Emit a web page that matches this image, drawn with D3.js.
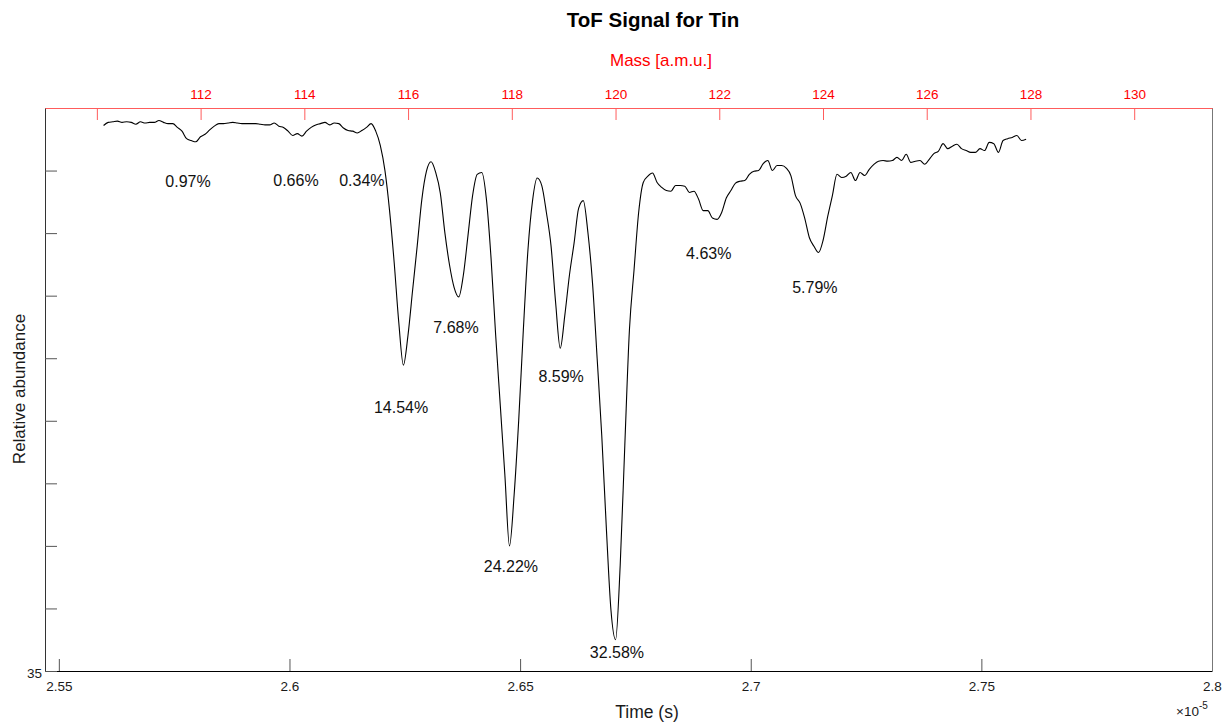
<!DOCTYPE html>
<html>
<head>
<meta charset="utf-8">
<script src="https://cdn.jsdelivr.net/npm/d3@7"></script>
<style>
  body { margin: 0; background: #fff; }
  svg { display: block; }
  text { font-family: "Liberation Sans", Arial, Helvetica, sans-serif; }
</style>
</head>
<body>
<svg id="chart" width="1226" height="725"></svg>
<script>
// Sampling grid of the time-of-flight trace (time in units of 1e-5 s)
const timeStart = 2.5597;
const timeStep = 0.001;

// Detector signal, one value per sample
const signal = [
  43.72, 43.77, 43.78, 43.79, 43.77, 43.78, 43.77, 43.74, 43.78, 43.76,
  43.77, 43.77, 43.80, 43.77, 43.75, 43.75, 43.69, 43.63, 43.51, 43.48,
  43.46, 43.54, 43.58, 43.65, 43.71, 43.75, 43.75, 43.76, 43.77, 43.76,
  43.75, 43.75, 43.75, 43.75, 43.74, 43.73, 43.73, 43.76, 43.71, 43.69,
  43.63, 43.56, 43.59, 43.55, 43.63, 43.69, 43.73, 43.75, 43.77, 43.73,
  43.76, 43.75, 43.68, 43.64, 43.63, 43.60, 43.64, 43.69, 43.75, 43.63,
  43.40, 43.00, 42.36, 41.53, 40.57, 39.89, 40.37, 41.09, 41.80, 42.54,
  42.99, 43.14, 42.97, 42.64, 42.00, 41.49, 41.13, 40.98, 41.33, 41.96,
  42.60, 42.94, 42.97, 42.54, 41.60, 40.37, 39.25, 38.13, 37.00, 37.81,
  39.01, 40.45, 41.73, 42.52, 42.88, 42.76, 42.33, 41.80, 40.89, 40.16,
  40.69, 41.33, 41.84, 42.40, 42.52, 42.01, 41.20, 40.00, 38.77, 37.28,
  35.97, 35.50, 36.69, 38.61, 40.45, 41.41, 42.33, 42.81, 42.91, 42.96,
  42.81, 42.73, 42.68, 42.67, 42.76, 42.76, 42.75, 42.65, 42.67, 42.54,
  42.36, 42.36, 42.24, 42.22, 42.33, 42.56, 42.68, 42.80, 42.83, 42.84,
  42.94, 42.99, 43.00, 43.11, 43.16, 43.00, 43.08, 43.08, 43.04, 42.92,
  42.60, 42.48, 42.24, 41.93, 41.79, 41.69, 41.89, 42.27, 42.60, 42.94,
  42.89, 42.91, 42.97, 42.84, 42.97, 42.92, 43.02, 43.10, 43.15, 43.16,
  43.15, 43.16, 43.21, 43.16, 43.26, 43.13, 43.15, 43.16, 43.10, 43.18,
  43.27, 43.31, 43.43, 43.35, 43.39, 43.42, 43.35, 43.32, 43.29, 43.29,
  43.35, 43.32, 43.45, 43.43, 43.29, 43.48, 43.51, 43.53, 43.56, 43.48,
  43.50
];

// Axis ticks
const timeTicks = [2.55, 2.6, 2.65, 2.7, 2.75, 2.8];
const timeTickLabels = ["2.55", "2.6", "2.65", "2.7", "2.75", "2.8"];
const levelTicks = [35, 36, 37, 38, 39, 40, 41, 42, 43, 44];
const levelTickLabels = ["35", "", "", "", "", "", "", "", "", ""];
const massTicks = [110, 112, 114, 116, 118, 120, 122, 124, 126, 128, 130];
const massTickLabels = ["", "112", "114", "116", "118", "120", "122", "124", "126", "128", "130"];

// Natural abundance of each tin isotope, written under its peak
const isotopeText = ["0.97%", "0.66%", "0.34%", "14.54%", "7.68%", "24.22%", "8.59%", "32.58%", "4.63%", "5.79%"];
const isotopeTime = [2.5780, 2.6014, 2.6157, 2.6242, 2.6361, 2.6480, 2.6589, 2.6710, 2.6909, 2.7139];
const isotopeLevel = [42.83, 42.84, 42.84, 39.22, 40.50, 36.68, 39.71, 35.29, 41.68, 41.13];

const svg = d3.select("#chart");
svg.append("rect").attr("width", 1226).attr("height", 725).attr("fill", "#fff");

const plotLeft = 45, plotRight = 1212, plotTop = 108, plotBottom = 671;

const x = d3.scaleLinear().domain([2.547, 2.8]).range([plotLeft, plotRight]);
const y = d3.scaleLinear().domain([35, 44]).range([plotBottom, plotTop]);
const mass = d3.scaleLinear().domain([109.0, 131.5]).range([plotLeft, plotRight]);

const fontStack = "'Liberation Sans', Arial, sans-serif";

// Bottom time axis, ticks pointing into the plot
const xAxis = d3.axisBottom(x)
  .tickValues(timeTicks)
  .tickFormat((d, i) => timeTickLabels[i])
  .tickSizeInner(-12).tickSizeOuter(0).tickPadding(10);
const gx = svg.append("g").attr("transform", `translate(0,${plotBottom})`).call(xAxis);
gx.select(".domain").attr("stroke", "#000").attr("stroke-width", 1.2);
gx.selectAll(".tick line").attr("stroke", "#555");
gx.selectAll(".tick text").attr("fill", "#1a1a1a").attr("font-size", 13.5)
  .attr("font-family", fontStack);

// Left level axis
const yAxis = d3.axisLeft(y)
  .tickValues(levelTicks)
  .tickFormat((d, i) => levelTickLabels[i])
  .tickSizeInner(-12).tickSizeOuter(0).tickPadding(3);
const gy = svg.append("g").attr("transform", `translate(${plotLeft},0)`).call(yAxis);
gy.select(".domain").attr("stroke", "#333");
gy.selectAll(".tick line").attr("stroke", "#555");
gy.selectAll(".tick text").attr("fill", "#1a1a1a").attr("font-size", 13.5)
  .attr("dy", "0.45em")
  .attr("font-family", fontStack);

// Right frame edge
svg.append("line")
  .attr("x1", plotRight + 0.5).attr("x2", plotRight + 0.5)
  .attr("y1", plotTop).attr("y2", plotBottom)
  .attr("stroke", "#777");

// Top mass axis in red
const massAxis = d3.axisTop(mass)
  .tickValues(massTicks)
  .tickFormat((d, i) => massTickLabels[i])
  .tickSizeInner(-12).tickSizeOuter(0).tickPadding(9);
const gm = svg.append("g").attr("transform", `translate(0,${plotTop})`).call(massAxis);
gm.select(".domain").attr("stroke", "#ff5c5c");
gm.selectAll(".tick line").attr("stroke", "#ff5c5c");
gm.selectAll(".tick text").attr("fill", "#ff0000").attr("font-size", 13.5)
  .attr("font-family", fontStack);

// Signal trace, smoothed between samples without overshooting the extrema
const line = d3.line()
  .x((d, i) => x(timeStart + i * timeStep))
  .y(d => y(d))
  .curve(d3.curveMonotoneX);
svg.append("path")
  .datum(signal)
  .attr("d", line)
  .attr("fill", "none")
  .attr("stroke", "#000")
  .attr("stroke-width", 1.1)
  .attr("stroke-linejoin", "round");

// Isotope abundance annotations
svg.append("g").selectAll("text")
  .data(isotopeText)
  .join("text")
  .attr("x", (d, i) => x(isotopeTime[i]))
  .attr("y", (d, i) => y(isotopeLevel[i]))
  .attr("dy", "0.35em")
  .attr("text-anchor", "middle")
  .attr("font-size", 16)
  .attr("fill", "#111")
  .text(d => d);

// Titles and axis labels
svg.append("text").attr("x", 653).attr("y", 27)
  .attr("text-anchor", "middle").attr("font-size", 20.5).attr("font-weight", "bold")
  .attr("fill", "#000").text("ToF Signal for Tin");
svg.append("text").attr("x", 661).attr("y", 66)
  .attr("text-anchor", "middle").attr("font-size", 17)
  .attr("fill", "#ff0000").text("Mass [a.m.u.]");
svg.append("text").attr("x", 647).attr("y", 718)
  .attr("text-anchor", "middle").attr("font-size", 17.5)
  .attr("fill", "#1a1a1a").text("Time (s)");
svg.append("text")
  .attr("transform", "translate(25,389) rotate(-90)")
  .attr("text-anchor", "middle").attr("font-size", 17)
  .attr("fill", "#1a1a1a").text("Relative abundance");

// Exponent of the time axis
const expo = svg.append("text").attr("x", 1176).attr("y", 716)
  .attr("font-size", 13.5).attr("fill", "#1a1a1a");
expo.append("tspan").text("\u00d710");
expo.append("tspan").attr("dy", -7.5).attr("font-size", 10).text("-5");
</script>
</body>
</html>
